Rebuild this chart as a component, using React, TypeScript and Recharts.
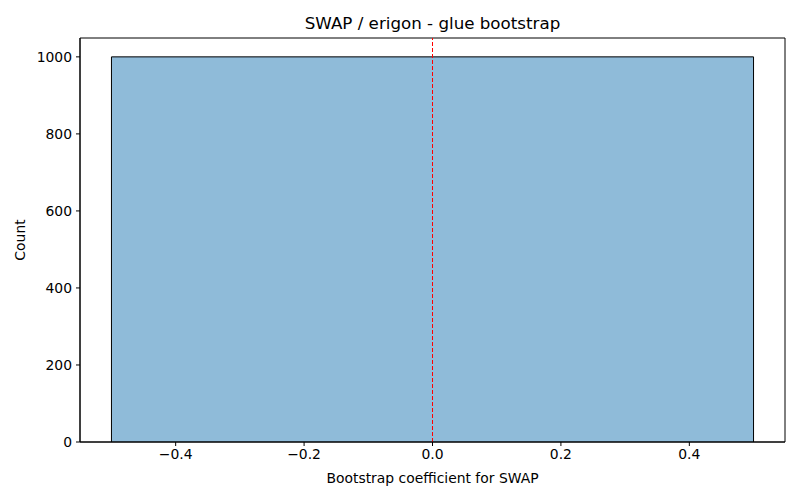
import { ComposedChart, Area, XAxis, YAxis, ReferenceLine, ReferenceArea } from 'recharts';

const binEdges = [-0.5, 0.5];
const counts = [1000];
const xTicks = [-0.4, -0.2, 0, 0.2, 0.4];
const yTicks = [0, 200, 400, 600, 800, 1000];
const meanLine = 0;

const xDomain = [-0.549, 0.549];
const yDomain = [0, 1049];

// histogram outline: up at each left edge, across, down at the last edge
const stepData: { x: number; count: number }[] = [];
counts.forEach((c, i) => {
  stepData.push({ x: binEdges[i], count: 0 });
  stepData.push({ x: binEdges[i], count: c });
  stepData.push({ x: binEdges[i + 1], count: c });
  stepData.push({ x: binEdges[i + 1], count: 0 });
});

const font = 'DejaVu Sans, sans-serif';
const fmt = (v: number) => (v < 0 ? '\u2212' + Math.abs(v).toFixed(1) : v.toFixed(1));

const App = () => {
  return (
    <div style={{ position: 'absolute', left: 0, top: 0, width: 800, height: 500, background: '#fff', fontFamily: font }}>
      <div style={{ position: 'absolute', left: 80, width: 705, top: 13, textAlign: 'center', fontSize: 16.7, color: '#000' }}>
        SWAP / erigon - glue bootstrap
      </div>
      <ComposedChart width={800} height={500} data={stepData} margin={{ top: 38, right: 15, left: 0, bottom: 0 }}>
        <XAxis
          dataKey="x"
          type="number"
          domain={xDomain}
          ticks={xTicks}
          tickFormatter={fmt}
          allowDataOverflow
          height={58}
          stroke="#000"
          tickSize={4}
          tickMargin={3}
          tick={{ fill: '#000', fontSize: 13.9, fontFamily: font }}
          label={{ value: 'Bootstrap coefficient for SWAP', position: 'insideBottom', offset: 17, fill: '#000', fontSize: 13.9, fontFamily: font }}
        />
        <YAxis
          type="number"
          domain={yDomain}
          ticks={yTicks}
          allowDataOverflow
          width={80}
          stroke="#000"
          tickSize={4}
          tickMargin={4}
          tick={{ fill: '#000', fontSize: 13.9, fontFamily: font }}
          label={{ value: 'Count', angle: -90, position: 'insideLeft', offset: 20, fill: '#000', fontSize: 13.9, fontFamily: font, style: { textAnchor: 'middle' } }}
        />
        <Area
          dataKey="count"
          type="linear"
          fill="#8fbbd9"
          fillOpacity={1}
          stroke="#000"
          strokeWidth={1}
          dot={false}
          activeDot={false}
          isAnimationActive={false}
        />
        <ReferenceLine x={meanLine} stroke="#ff0000" strokeDasharray="4 2" strokeWidth={1} />
        {/* axes frame */}
        <ReferenceArea
          x1={xDomain[0]}
          x2={xDomain[1]}
          y1={yDomain[0]}
          y2={yDomain[1]}
          fill="none"
          fillOpacity={0}
          stroke="#000"
          strokeWidth={1}
          ifOverflow="visible"
        />
      </ComposedChart>
    </div>
  );
};

export default App;
